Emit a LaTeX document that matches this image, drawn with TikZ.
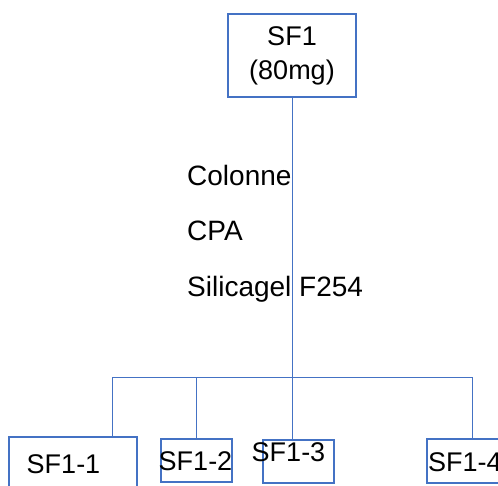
\documentclass[tikz,border=0pt]{standalone}
\usepackage{fontspec}
\setmainfont{Liberation Sans}
\definecolor{boxblue}{RGB}{68,114,196}
\tikzset{
  fracbox/.style={draw=boxblue,line width=2pt,fill=white,inner sep=0pt},
  link/.style={draw=boxblue,line width=1pt},
  lbl/.style={inner sep=0pt,font=\fontsize{27}{34}\selectfont},
  steplbl/.style={inner sep=0pt,anchor=base west,font=\fontsize{28}{34}\selectfont}
}
\begin{document}
\begin{tikzpicture}[x=1pt,y={(0pt,-1pt)}]
        \useasboundingbox (0,0) rectangle (498,486);
        \clip (0,0) rectangle (498,486);
        \coordinate (busL) at (112,377);
        \coordinate (busM) at (196,377);
        \coordinate (busR) at (472,377);
        \node[fracbox,minimum width=128pt,minimum height=83pt,align=center,font=\fontsize{27}{34}\selectfont] (SF1) at (292,55.5){SF1\\(80mg)};
        \node[fracbox,minimum width=128pt,minimum height=83pt] (SF11) at (73,478.5){};
        \node[fracbox,minimum width=71pt,minimum height=43pt] (SF12) at (196.5,460.5){};
        \node[fracbox,minimum width=71pt,minimum height=43pt] (SF13) at (298.5,461.5){};
        \node[fracbox,minimum width=73pt,minimum height=44pt] (SF14) at (463.5,461){};
        \draw[link] (SF1.south) -- (SF1.south |- SF13.north);
        \draw[link] (busL) -- (busR);
        \draw[link] (busL) -- (busL |- SF11.north);
        \draw[link] (busM) -- (busM |- SF12.north);
        \draw[link] (busR) -- (busR |- SF14.north);
        \node[steplbl] (colonne) at (187,186){Colonne};
        \node[steplbl] (cpa) at (187,241){CPA};
        \node[steplbl] (silica) at (187,297){Silicagel F254};
        \node[lbl,anchor=base] (t11) at (63.5,473){SF1-1};
        \node[lbl,anchor=base] (t12) at (195.5,470){SF1-2};
        \node[lbl,anchor=base] (t13) at (288.5,461){SF1-3};
        \node[lbl,anchor=base west] (t14) at (428,471){SF1-4};
    \end{tikzpicture}
\end{document}
